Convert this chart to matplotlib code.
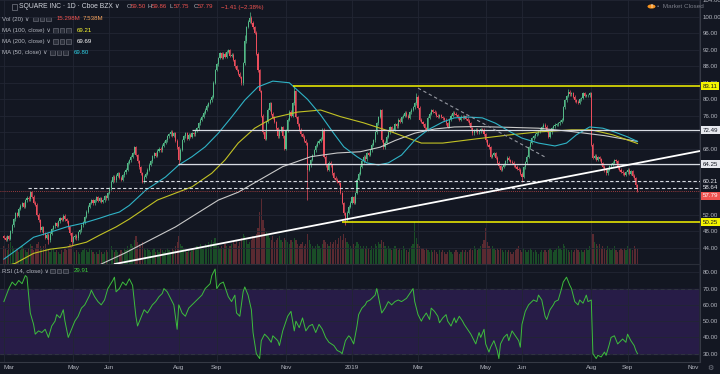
import numpy as np
import matplotlib.pyplot as plt
import matplotlib.transforms as mtransforms
from matplotlib.patches import Rectangle, Circle

plt.rcParams['font.family'] = ['Liberation Sans', 'DejaVu Sans']

# daily closes, Mar 1 2018 .. Sep 2019
closes = [
    46.5, 46.0, 46.8, 46.2, 48.0, 49.5, 51.0, 52.4, 51.8, 53.5,
    54.2, 54.9, 54.0, 55.5, 56.2, 55.8, 57.5, 56.4, 55.0, 54.5,
    52.0, 50.7, 48.3, 49.0, 47.6, 46.5, 47.2, 45.9, 47.5, 48.6,
    49.2, 50.0, 49.4, 50.5, 51.2, 50.8, 51.8, 51.0, 50.5, 49.0,
    47.6, 45.5, 46.6, 47.0, 46.3, 47.8, 48.3, 49.5, 50.2, 51.5,
    52.8, 54.0, 54.9, 55.5, 54.8, 55.6, 56.3, 55.4, 56.0, 55.2,
    55.6, 56.5, 56.0, 57.3, 58.5, 60.0, 61.2, 60.4, 61.5, 62.1,
    61.0, 60.5, 61.6, 62.3, 62.9, 64.6, 65.2, 66.1, 67.0, 68.4,
    66.5, 65.0, 63.5, 62.1, 60.0, 61.2, 62.0, 62.9, 64.2, 65.0,
    66.2, 67.0, 66.3, 67.5, 68.0, 67.7, 68.8, 69.5, 70.1, 71.0,
    71.5, 72.1, 71.2, 71.8, 70.0, 68.4, 65.3, 67.8, 70.1, 71.0,
    71.8, 70.5, 71.4, 70.9, 71.8, 71.5, 72.4, 73.0, 74.2, 75.0,
    75.8, 76.7, 77.5, 78.4, 79.1, 79.8, 80.6, 84.0, 87.1, 88.5,
    90.0, 91.2, 90.0, 91.0, 90.3, 91.5, 91.9, 90.5, 90.8, 89.5,
    88.0, 87.1, 86.2, 85.4, 83.9, 88.7, 94.0, 97.5, 98.8, 99.7,
    98.5, 97.4, 96.1, 91.0, 87.0, 82.0, 76.0, 72.0, 70.5, 74.5,
    77.5, 79.0, 76.5, 75.5, 74.5, 73.0, 71.0, 72.5, 73.3, 71.0,
    68.0, 72.5, 75.0, 77.0, 76.0, 79.0, 82.0, 75.7, 74.0, 72.6,
    71.5, 70.9, 70.0, 69.4, 63.0, 64.0, 65.3, 66.5, 67.7, 68.8,
    69.5, 70.0, 70.5, 72.6, 66.1, 64.0, 62.9, 64.6, 64.0, 62.1,
    61.0, 60.5, 60.0, 59.7, 57.3, 54.9, 52.4, 50.8, 52.5, 54.0,
    55.0, 56.3, 55.0, 57.3, 60.5, 62.0, 63.7, 65.0, 66.1, 65.5,
    67.0, 66.5, 67.7, 69.0, 70.1, 72.0, 74.2, 75.7, 77.4, 70.1,
    68.4, 69.5, 70.9, 72.0, 73.3, 72.5, 72.6, 74.0, 73.5, 75.0,
    74.5, 75.7, 76.0, 76.7, 76.0, 75.5, 76.9, 77.5, 78.1, 79.0,
    80.6, 78.0, 75.0, 74.5, 74.0, 73.0, 72.6, 75.5, 76.5, 77.4,
    77.0, 76.8, 76.0, 75.7, 76.2, 75.7, 75.4, 75.0, 74.2, 73.3,
    75.2, 76.0, 76.7, 76.5, 76.2, 75.6, 75.0, 75.8, 75.5, 75.9,
    75.3, 74.8, 74.2, 73.0, 71.8, 72.4, 72.6, 72.0, 72.3, 72.8,
    72.6, 71.5, 70.1, 69.0, 68.4, 66.1, 66.5, 67.0, 65.8, 64.6,
    63.8, 62.9, 63.6, 64.2, 65.0, 65.8, 65.3, 64.9, 64.6, 64.0,
    63.7, 63.2, 62.9, 62.0, 61.2, 63.5, 64.8, 66.1, 68.4, 69.5,
    70.6, 71.0, 71.5, 71.8, 72.2, 72.6, 73.2, 73.8, 73.4, 72.5,
    70.9, 72.0, 73.0, 73.5, 73.8, 74.0, 74.2, 74.6, 75.0, 78.1,
    79.8, 80.8, 81.8, 81.2, 81.5, 80.6, 79.8, 79.4, 79.2, 80.0,
    80.3, 81.5, 80.8, 81.0, 81.0, 81.5, 69.0, 65.8, 66.3, 65.3,
    66.0, 65.5, 64.5, 63.7, 62.8, 62.1, 63.0, 63.8, 64.2, 64.6,
    65.3, 65.0, 63.5, 62.9, 62.5, 62.1, 61.7, 62.3, 62.9, 62.0,
    62.6, 61.5, 60.9, 59.2, 57.79,
]
first_open = 46.9

# volume in millions
volumes = [
    9, 8, 7, 10, 11, 9, 8, 7, 8, 6, 7, 9, 8, 7, 6, 8, 10, 9, 7, 8,
    10, 11, 9, 8, 9, 10, 8, 7, 6, 7, 8, 6, 7, 6, 5, 7, 6, 8, 7, 9,
    10, 9, 7, 6, 7, 6, 5, 6, 7, 8, 7, 6, 8, 7, 6, 5, 6, 5, 7, 6,
    5, 6, 7, 6, 8, 9, 7, 6, 7, 6, 5, 7, 6, 8, 7, 9, 8, 10, 9, 12,
    14, 11, 10, 9, 11, 8, 7, 8, 7, 6, 7, 8, 6, 7, 6, 8, 7, 6, 7, 8,
    7, 6, 8, 7, 9, 11, 14, 10, 9, 8, 7, 6, 7, 6, 7, 8, 7, 9, 8, 10,
    9, 8, 10, 9, 11, 10, 12, 11, 13, 10, 9, 8, 9, 8, 10, 9, 8, 9, 10, 11,
    10, 12, 9, 11, 13, 15, 14, 12, 10, 11, 12, 14, 13, 15, 18, 26, 33, 22, 18, 16,
    15, 13, 12, 14, 11, 12, 13, 14, 12, 11, 13, 12, 11, 10, 12, 11, 13, 12, 10, 9,
    10, 11, 9, 10, 15, 12, 10, 9, 8, 9, 10, 9, 8, 10, 12, 11, 10, 9, 11, 10,
    11, 12, 10, 13, 14, 12, 15, 13, 11, 10, 9, 8, 10, 9, 11, 10, 9, 8, 9, 8,
    9, 8, 7, 9, 8, 10, 9, 11, 10, 12, 11, 9, 8, 9, 8, 7, 8, 9, 8, 7,
    8, 7, 9, 8, 7, 6, 8, 9, 10, 21, 13, 10, 9, 8, 8, 7, 8, 7, 6, 7,
    6, 7, 6, 5, 7, 6, 7, 6, 5, 6, 7, 6, 5, 6, 7, 6, 5, 6, 7, 6,
    7, 6, 7, 8, 7, 9, 8, 7, 8, 9, 10, 12, 18, 11, 9, 8, 9, 8, 7, 8,
    7, 8, 7, 6, 7, 6, 7, 6, 5, 6, 7, 8, 9, 7, 6, 8, 7, 6, 7, 8,
    7, 6, 7, 6, 5, 6, 7, 6, 7, 6, 7, 8, 7, 6, 7, 8, 9, 8, 7, 10,
    9, 8, 7, 6, 7, 6, 7, 8, 7, 6, 7, 6, 7, 8, 7, 9, 23, 15, 11, 10,
    9, 10, 8, 9, 8, 7, 9, 8, 7, 8, 9, 7, 6, 7, 8, 7, 8, 7, 9, 8,
    8, 7, 9, 8, 7.5,
]

# notable wicks
wick_high = {149: 101.1, 176: 83.1, 250: 81.5, 342: 82.6, 146: 95.5}
wick_low = {184: 55.6, 207: 49.6, 41: 44.4, 106: 64.0, 314: 60.0, 27: 45.0}

# moving averages (bar index, value)
ma50_idx = [0, 10, 18, 28, 38, 48, 58, 64, 70, 76, 86, 98, 106, 114, 122, 130, 138, 146,
            154, 163, 173, 184, 192, 200, 206, 214, 220, 227, 233, 241, 249, 257, 266,
            273, 281, 290, 298, 307, 314, 324, 334, 341, 347, 355, 363, 370, 378, 384]
ma50_val = [41.3, 44.2, 46.6, 47.8, 49.1, 50.0, 51.2, 52.0, 52.7, 54.3, 58.0, 61.2, 64.1,
            66.1, 68.5, 71.8, 75.7, 79.8, 83.0, 84.4, 84.0, 80.0, 76.2, 71.7, 68.5, 66.1,
            64.6, 64.1, 64.6, 66.5, 70.1, 72.6, 74.5, 75.5, 75.7, 75.5, 74.2, 72.1, 70.6,
            69.4, 68.7, 69.4, 71.4, 73.3, 73.0, 72.1, 70.9, 69.8]
ma100_idx = [0, 7, 18, 28, 38, 50, 58, 68, 76, 93, 114, 126, 134, 142, 152, 163, 178, 192,
             204, 218, 228, 235, 245, 253, 266, 286, 307, 324, 344, 356, 369, 384]
ma100_val = [39.5, 40.3, 42.7, 43.7, 44.2, 45.4, 47.1, 49.1, 51.0, 55.6, 58.8, 62.1, 65.3,
             69.4, 73.0, 75.5, 76.9, 77.4, 75.8, 74.3, 73.0, 72.1, 70.6, 69.4, 69.4, 70.4,
             71.4, 72.1, 72.6, 72.6, 71.4, 69.3]
ma200_idx = [50, 60, 73, 104, 130, 142, 152, 169, 186, 202, 216, 228, 237, 249, 261, 273,
             286, 307, 324, 344, 364, 384]
ma200_val = [38.4, 40.3, 42.7, 49.1, 55.6, 57.5, 59.8, 63.7, 66.1, 67.0, 67.3, 68.4, 70.0,
             71.8, 72.8, 73.3, 73.4, 73.2, 73.0, 72.2, 71.2, 69.8]

# RSI(14) (bar index, value)
rsi_idx = [0, 3, 5, 7, 9, 11, 13, 14, 16, 18, 19, 21, 23, 25, 27, 29, 31, 32, 34, 36,
           37, 39, 41, 43, 45, 47, 49, 52, 53, 55, 57, 59, 61, 63, 66, 67, 68, 70, 72,
           74, 76, 78, 80, 81, 83, 85, 87, 90, 92, 94, 96, 97, 99, 101, 103, 105, 106,
           108, 110, 112, 114, 116, 118, 120, 122, 125, 126, 128, 129, 131, 133, 134,
           136, 138, 140, 141, 143, 145, 146, 148, 150, 151, 153, 155, 156, 158, 160,
           162, 163, 166, 167, 169, 171, 172, 174, 176, 177, 179, 181, 183, 185, 187,
           189, 191, 193, 195, 197, 200, 202, 204, 205, 207, 209, 210, 212, 214, 215,
           217, 219, 220, 222, 224, 225, 226, 228, 229, 231, 233, 235, 237, 239, 241,
           244, 246, 248, 249, 251, 253, 254, 256, 258, 259, 261, 263, 264, 266, 268,
           269, 271, 273, 274, 276, 278, 279, 281, 283, 284, 286, 288, 289, 291, 292,
           294, 295, 297, 299, 300, 301, 303, 305, 306, 308, 310, 312, 313, 314, 316,
           318, 319, 321, 323, 324, 326, 328, 329, 331, 333, 334, 336, 338, 339, 341,
           343, 344, 346, 348, 349, 351, 353, 354, 356, 357, 359, 360, 362, 364, 365,
           367, 368, 370, 372, 373, 375, 377, 378, 380, 382, 383, 384]
rsi_val = [62, 70, 74, 72, 75, 73, 78, 77, 55, 48, 42, 44, 43, 45, 40, 47, 50, 54, 52, 57,
           50, 40, 45, 50, 53, 58, 60, 66, 69, 65, 62, 60, 63, 70, 75, 77, 68, 70, 74,
           72, 76, 72, 53, 47, 52, 57, 55, 60, 62, 65, 67, 70, 68, 64, 60, 45, 60, 55,
           53, 58, 60, 62, 64, 66, 70, 73, 78, 82, 70, 73, 74, 71, 65, 62, 66, 55, 53,
           68, 71, 66, 57, 43, 30, 27, 38, 42, 40, 37, 41, 38, 35, 44, 50, 53, 56, 44,
           50, 46, 52, 44, 47, 48, 43, 48, 45, 40, 37, 35, 32, 31, 30, 38, 41, 40, 36,
           47, 54, 58, 60, 62, 63, 65, 66, 70, 60, 55, 58, 62, 60, 62, 63, 62, 64, 67,
           70, 62, 54, 50, 52, 55, 51, 58, 56, 53, 49, 52, 54, 50, 47, 52, 49, 53, 50,
           48, 45, 42, 40, 36, 43, 40, 45, 36, 31, 34, 38, 32, 27, 36, 40, 42, 38, 44,
           41, 38, 34, 48, 56, 60, 61, 63, 62, 66, 63, 53, 51, 57, 60, 62, 63, 70, 74,
           77, 72, 70, 62, 60, 63, 61, 66, 62, 63, 30, 27, 29, 28, 31, 29, 36, 40, 41,
           36, 37, 39, 37, 42, 38, 35, 32, 30]

month_pos = [0, 42, 64, 106, 129, 171, 211, 251, 292, 314, 356, 378, 421]
month_labels = ['Mar', 'May', 'Jun', 'Aug', 'Sep', 'Nov', '2019', 'Mar', 'May', 'Jun',
                'Aug', 'Sep', 'Nov']
price_ticks = [44, 48, 52, 56, 60, 64, 68, 72, 76, 80, 84, 88, 92, 96, 100, 104]
rsi_ticks = [30, 40, 50, 60, 70, 80]

# drawn levels: value, first bar
levels = [83.11, 72.49, 64.25, 60.21, 58.64, 50.25]
level_start = [175, 114, 105.5, 84.3, 14.6, 205]
trend_idx = [73.4, 388.5]
trend_val = [40.6, 64.9]
fan_idx = [251, 329]
fan_val = [82.7, 65.8]
last_price = 57.79

BG = '#131722'
GRID = '#222633'
TXT = '#b2b5be'
UP = '#53b987'
DN = '#eb4d5c'

fig = plt.figure(figsize=(7.2, 3.74), dpi=100, facecolor=BG)
W, H = 720, 374


def fx(x):
    return x / W


def fy(y):
    return 1 - y / H


ax = fig.add_axes([0, fy(264), fx(700), 264 / H])
axr = fig.add_axes([0, fy(362), fx(700), 98 / H])
axv = ax.twinx()
ax.set_zorder(2)
axv.set_zorder(1)
ax.patch.set_visible(False)
axv.patch.set_visible(False)
axr.set_facecolor(BG)

n = len(closes)
x = np.arange(n)
c = np.array(closes)
o = np.r_[first_open, c[:-1]]
up = c >= o

xmin, xmax = -2.36, 421.9

# volume
vcol = np.where(up, '#1a4d27', '#5a2a31')
axv.bar(x, volumes, width=0.75, color=vcol, linewidth=0)
axv.set_ylim(0, 132)
axv.set_yticks([])
for s in axv.spines.values():
    s.set_visible(False)

# candles
hi = np.maximum(o, c) + 0.35
lo = np.minimum(o, c) - 0.35
for k, v in wick_high.items():
    hi[k] = v
for k, v in wick_low.items():
    lo[k] = v
ccol = np.where(up, UP, DN)
ax.vlines(x, lo, hi, colors=ccol, linewidth=0.5, zorder=3)
body = np.maximum(np.abs(c - o), 0.12)
ax.bar(x, body, bottom=np.minimum(o, c), width=0.65, color=ccol, linewidth=0, zorder=3)

# moving averages
ax.plot(ma200_idx, ma200_val, color='#c9c9c9', lw=0.8, zorder=4)
ax.plot(ma100_idx, ma100_val, color='#c2c224', lw=0.8, zorder=4)
ax.plot(ma50_idx, ma50_val, color='#2fb3c6', lw=0.8, zorder=4)

# drawings
lv_col = ['#f5f500', '#d8dbe2', '#d8dbe2', '#d8dbe2', '#d8dbe2', '#f5f500']
lv_ls = ['-', '-', '-', (0, (3, 2)), (0, (3, 2)), '-']
lv_lw = [1.1, 0.9, 0.9, 0.8, 0.8, 1.1]
for v, s, col, ls, lw in zip(levels, level_start, lv_col, lv_ls, lv_lw):
    ax.hlines(v, s, xmax, colors=col, linestyles=ls, linewidth=lw, zorder=5)
ax.hlines(last_price, xmin, xmax, colors='#ef5350', linestyles=(0, (1, 1.5)),
          linewidth=0.6, alpha=0.8, zorder=5)
ax.axline((trend_idx[0], trend_val[0]), (trend_idx[1], trend_val[1]),
          color='#ffffff', lw=1.3, zorder=5)
ax.plot(fan_idx, fan_val, color='#9598a1', lw=0.8, ls=(0, (3, 2.5)), zorder=5)

# tick labels hidden where a price label sits on top of them
covered = [56, 60, 64, 72]
ax.set_xlim(xmin, xmax)
ax.set_ylim(40.12, 104.04)
ax.set_yticks(price_ticks)
ax.set_yticklabels(['' if t in covered else f'{t:.2f}' for t in price_ticks])
ax.yaxis.tick_right()
ax.tick_params(axis='y', length=0, pad=2.0, labelsize=4.4, labelcolor=TXT)
ax.set_xticks(month_pos)
ax.tick_params(axis='x', length=0, labelbottom=False)
ax.grid(True, color=GRID, lw=0.6, zorder=0)
for side in ['top', 'left']:
    ax.spines[side].set_visible(False)
ax.spines['right'].set_color('#363a45')
ax.spines['bottom'].set_color('#2a2e39')

# price labels on the axis
bt = mtransforms.blended_transform_factory(ax.transAxes, ax.transData)
box_fc = ['#f5f500', '#e6e8ee', '#e6e8ee', BG, BG, '#f5f500']
box_tc = ['#131722', '#131722', '#131722', '#e6e8ee', '#e6e8ee', '#131722']
for v, fc, tc in zip(levels, box_fc, box_tc):
    ax.text(1.004, v, f'{v:.2f}', transform=bt, ha='left', va='center', fontsize=4.4,
            color=tc, zorder=6, clip_on=False,
            bbox=dict(boxstyle='square,pad=0.25', fc=fc, ec='none'))
ax.text(1.004, last_price - 1.2, f'{last_price:.2f}', transform=bt, ha='left',
        va='center', fontsize=4.4, color='white', zorder=6, clip_on=False,
        bbox=dict(boxstyle='square,pad=0.25', fc='#ef5350', ec='none'))

# RSI pane
axr.axhspan(30, 70, color='#271c47', zorder=0)
axr.axhline(70, color='#787b86', lw=0.7, ls=(0, (4, 3)), zorder=1)
axr.axhline(30, color='#787b86', lw=0.7, ls=(0, (4, 3)), zorder=1)
axr.plot(rsi_idx, rsi_val, color='#3dbd3d', lw=0.7, zorder=3)
axr.set_xlim(xmin, xmax)
axr.set_ylim(24.9, 85.1)
axr.set_yticks(rsi_ticks)
axr.set_yticklabels([f'{t:.2f}' for t in rsi_ticks])
axr.yaxis.tick_right()
axr.tick_params(axis='y', length=0, pad=2.0, labelsize=4.4, labelcolor=TXT)
axr.set_xticks(month_pos)
axr.set_xticklabels(month_labels)
axr.tick_params(axis='x', length=0, pad=2.5, labelsize=4.6, labelcolor=TXT)
axr.get_xticklabels()[0].set_ha('left')
axr.get_xticklabels()[-1].set_ha('right')
axr.grid(True, color=GRID, lw=0.6, zorder=0)
for side in ['top', 'left']:
    axr.spines[side].set_visible(False)
axr.spines['right'].set_color('#363a45')
axr.spines['bottom'].set_color('#363a45')


# header and legends
def icons(x0, y0):
    for k in range(3):
        fig.add_artist(Rectangle((fx(x0 + k * 6.5), fy(y0 + 2.3)), 4.6 / W, 4.6 / H,
                                 transform=fig.transFigure, fc='#2a2e39',
                                 ec='#787b86', lw=0.4))


fig.add_artist(Rectangle((fx(12), fy(9.5)), 5 / W, 5 / H, transform=fig.transFigure,
                         fc='none', ec='#787b86', lw=0.5))
fig.text(fx(19), fy(7), 'SQUARE INC · 1D · Cboe BZX ∨', color='#d1d4dc', fontsize=4.9,
         va='center')
for lx, lab, val in [(127, 'O', '59.50'), (148, 'H', '59.86'), (170, 'L', '57.75'),
                     (194, 'C', '57.79')]:
    fig.text(fx(lx), fy(7), lab, color=TXT, fontsize=4.4, va='center')
    fig.text(fx(lx + 3.8), fy(7), val, color='#ef5350', fontsize=4.4, va='center')
fig.text(fx(221), fy(7), '−1.41 (−2.38%)', color='#ef5350', fontsize=4.4, va='center')

rows = [(19, 'Vol (20) ∨', 33), (30.7, 'MA (100, close) ∨', 53),
        (41.7, 'MA (200, close) ∨', 53), (52.3, 'MA (50, close) ∨', 50)]
for yy, lab, ix in rows:
    fig.text(fx(2), fy(yy), lab, color=TXT, fontsize=4.4, va='center')
    icons(ix, yy)
fig.text(fx(57), fy(19), '15.298M', color='#ef5350', fontsize=4.4, va='center')
fig.text(fx(83), fy(19), '7.538M', color='#f7a35c', fontsize=4.4, va='center')
fig.text(fx(77), fy(30.7), '69.21', color='#ffff33', fontsize=4.4, va='center')
fig.text(fx(77), fy(41.7), '69.69', color='#ffffff', fontsize=4.4, va='center')
fig.text(fx(74), fy(52.3), '69.80', color='#2ed1e6', fontsize=4.4, va='center')
fig.text(fx(2), fy(271), 'RSI (14, close) ∨', color=TXT, fontsize=4.4, va='center')
icons(50, 271)
fig.text(fx(74), fy(271), '29.91', color='#3dd13d', fontsize=4.4, va='center')

fig.add_artist(Circle((fx(651.5), fy(6.5)), 4 / W, transform=fig.transFigure,
                      fc='#f7931e', ec='none'))
fig.text(fx(651.5), fy(6.5), '!', color='white', fontsize=4.5, fontweight='bold',
         ha='center', va='center')
fig.text(fx(657), fy(6.5), '•  Market Closed', color='#787b86', fontsize=4.6, va='center')
fig.text(fx(710), fy(368), '⚙', color='#787b86', fontsize=5, ha='center', va='center')

fig.savefig('out.png', dpi=100, facecolor=BG)
